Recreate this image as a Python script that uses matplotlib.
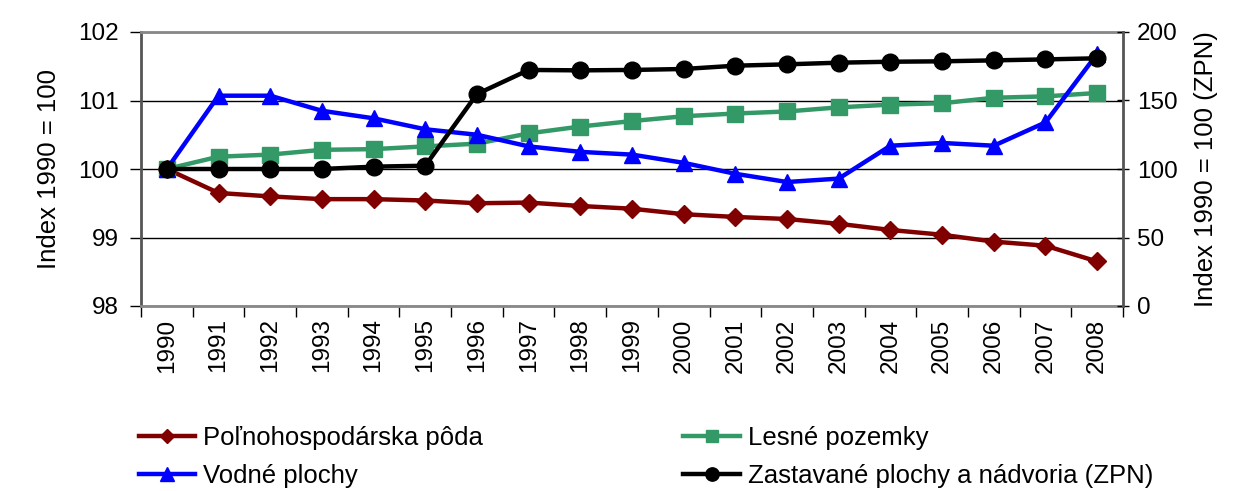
import matplotlib.pyplot as plt
import matplotlib.ticker as mticker

plt.rcParams["font.family"] = ["Liberation Sans", "DejaVu Sans"]

years = [str(y) for y in range(1990, 2009)]

polnohosp = [100.0, 99.65, 99.60, 99.56, 99.56, 99.54, 99.50, 99.51, 99.46, 99.42,
             99.34, 99.30, 99.27, 99.20, 99.11, 99.04, 98.94, 98.88, 98.65]
lesne = [100.0, 100.18, 100.21, 100.28, 100.29, 100.33, 100.37, 100.52, 100.62, 100.70,
         100.77, 100.81, 100.84, 100.90, 100.94, 100.96, 101.04, 101.06, 101.11]
vodne = [100.0, 101.07, 101.07, 100.85, 100.74, 100.58, 100.50, 100.33, 100.25, 100.21,
         100.09, 99.93, 99.81, 99.86, 100.34, 100.38, 100.34, 100.68, 101.68]
zpn = [100.0, 100.0, 100.0, 100.0, 101.7, 102.4, 154.7, 172.3, 172.0, 172.3,
       173.0, 175.4, 176.4, 177.6, 178.3, 178.6, 179.3, 180.0, 180.8]

labels = ["Poľnohospodárska pôda", "Lesné pozemky", "Vodné plochy",
          "Zastavané plochy a nádvoria (ZPN)"]

fig = plt.figure(figsize=(12.45, 4.91), dpi=100)
ax = fig.add_axes([141 / 1245, 1 - 306 / 491, (1123 - 141) / 1245, (306 - 32) / 491])
ax2 = ax.twinx()

x = list(range(len(years)))
lw = 3.2
l1, = ax.plot(x, polnohosp, color="#800000", lw=lw, marker="D", ms=9, zorder=3)
l2, = ax.plot(x, lesne, color="#339966", lw=lw, marker="s", ms=11, zorder=3)
l3, = ax.plot(x, vodne, color="#0000ff", lw=lw, marker="^", ms=12, zorder=3)
l4, = ax2.plot(x, zpn, color="black", lw=lw, marker="o", ms=12, zorder=3)

ax.set_xlim(-0.5, len(years) - 0.5)
ax.set_ylim(98, 102)
ax2.set_ylim(0, 200)
ax.set_yticks([98, 99, 100, 101, 102])
ax2.set_yticks([0, 50, 100, 150, 200])

ax.xaxis.set_major_locator(mticker.FixedLocator([i - 0.5 for i in range(len(years) + 1)]))
ax.xaxis.set_major_formatter(mticker.NullFormatter())
ax.xaxis.set_minor_locator(mticker.FixedLocator(x))
ax.xaxis.set_minor_formatter(mticker.FixedFormatter(years))
ax.tick_params(axis="x", which="major", length=8, width=1, color="black", direction="out")
ax.tick_params(axis="x", which="minor", length=0, pad=9, labelsize=17.5, labelrotation=90)
ax.tick_params(axis="y", length=8, width=1, labelsize=17.5, pad=8)
ax2.tick_params(axis="y", length=8, width=1, labelsize=17.5, direction="inout", pad=6)

ax.yaxis.grid(True, color="black", lw=1)
ax.set_axisbelow(True)

ax.spines["top"].set_color("#888888")
ax.spines["top"].set_linewidth(2)
ax2.spines["top"].set_visible(False)
ax.spines["left"].set_color("#555555")
ax.spines["left"].set_linewidth(2)
ax.spines["bottom"].set_color("#888888")
ax.spines["bottom"].set_linewidth(2)
ax2.spines["left"].set_visible(False)
ax2.spines["bottom"].set_visible(False)
ax2.spines["right"].set_color("#555555")
ax2.spines["right"].set_linewidth(2)
ax.spines["right"].set_visible(False)

ax.set_ylabel("Index 1990 = 100", fontsize=18.5, labelpad=12)
ax2.set_ylabel("Index 1990 = 100 (ZPN)", fontsize=18.5, labelpad=12)

# legend is filled column by column, so order for row-wise reading
fig.legend([l1, l3, l2, l4], [labels[0], labels[2], labels[1], labels[3]], ncol=2,
           loc="upper left", bbox_to_anchor=(126 / 1245, 1 - 413 / 491), frameon=False,
           fontsize=18.5, borderpad=0, handlelength=2.2, handletextpad=0.3,
           columnspacing=7.8, labelspacing=0.55, markerscale=0.8)

fig.savefig("out.png", dpi=100)
